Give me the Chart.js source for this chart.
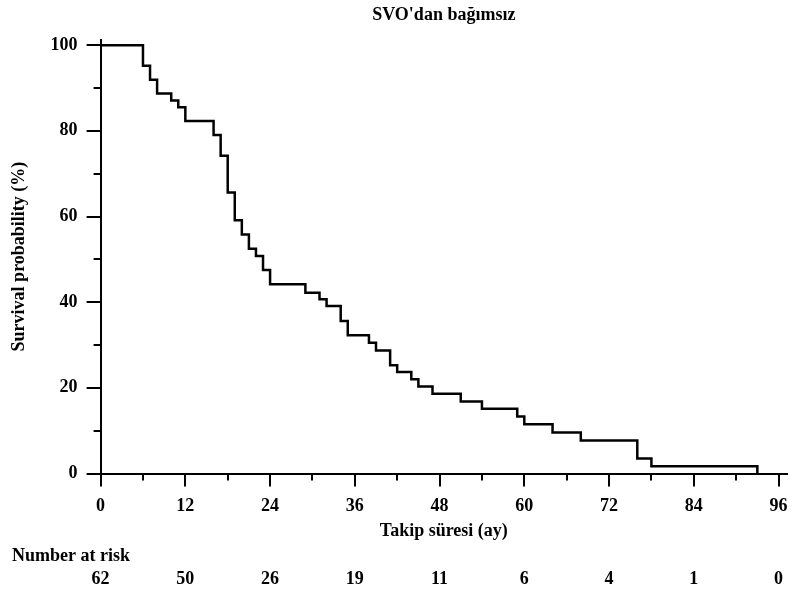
<!DOCTYPE html>
<html>
<head>
<meta charset="utf-8">
<script src="https://cdn.jsdelivr.net/npm/chart.js@4.4.0/dist/chart.umd.min.js"></script>
<style>
  html, body { margin: 0; padding: 0; background: #fff; }
  canvas { display: block; }
</style>
</head>
<body>
<canvas id="kmChart" width="793" height="592"></canvas>
<script>
// Kaplan-Meier estimate: follow-up months and survival (%) after each step
const months = [0, 6, 7, 8, 10, 11, 12, 16, 17, 18, 19, 20, 21, 22, 23, 24, 29, 31, 32, 34, 35, 38, 39, 41, 42, 44, 45, 47, 51, 54, 59, 60, 64, 68, 76, 78, 93];
const survival = [100, 95.2, 91.9, 88.7, 87.1, 85.5, 82.3, 79.0, 74.2, 65.6, 59.1, 55.8, 52.5, 50.8, 47.5, 44.2, 42.2, 40.7, 39.1, 35.6, 32.3, 30.5, 28.7, 25.3, 23.7, 22.0, 20.3, 18.6, 16.8, 15.1, 13.3, 11.5, 9.6, 7.7, 3.5, 1.7, 0];

const xTicks = [0, 12, 24, 36, 48, 60, 72, 84, 96];
const xMinorTicks = [6, 18, 30, 42, 54, 66, 78, 90];
const yTicks = [0, 20, 40, 60, 80, 100];
const yMinorTicks = [10, 30, 50, 70, 90];

// number at risk table under the x axis
const riskTimes = [0, 12, 24, 36, 48, 60, 72, 84, 96];
const atRisk = [62, 50, 26, 19, 11, 6, 4, 1, 0];

const FONT = "'Liberation Serif', 'Times New Roman', serif";
Chart.defaults.font.family = FONT;
Chart.defaults.font.size = 18;
Chart.defaults.font.weight = 'bold';
Chart.defaults.color = '#000';

// minor ticks + number at risk rows
const extras = {
    id: 'extras',
    afterDraw(chart) {
        const { ctx, scales: { x, y } } = chart;
        ctx.save();
        ctx.strokeStyle = '#000';
        ctx.lineWidth = 2;
        ctx.beginPath();
        xMinorTicks.forEach(v => {
            const px = Math.round(x.getPixelForValue(v));
            ctx.moveTo(px, y.bottom);
            ctx.lineTo(px, y.bottom + 7);
        });
        yMinorTicks.forEach(v => {
            const py = Math.round(y.getPixelForValue(v));
            ctx.moveTo(x.left - 7, py);
            ctx.lineTo(x.left, py);
        });
        ctx.stroke();

        ctx.font = 'bold 18px ' + FONT;
        ctx.fillStyle = '#000';
        ctx.textBaseline = 'middle';
        ctx.textAlign = 'left';
        ctx.fillText('Number at risk', 12, 556);
        ctx.textAlign = 'center';
        riskTimes.forEach((t, i) => {
            ctx.fillText(String(atRisk[i]), x.getPixelForValue(t), 579);
        });
        ctx.restore();
    }
};

const ctx = document.getElementById('kmChart').getContext('2d');

new Chart(ctx, {
    type: 'line',
    data: {
        datasets: [{
            data: months.map((m, i) => ({ x: m, y: survival[i] })),
            borderColor: '#000',
            borderWidth: 2.5,
            pointRadius: 0,
            stepped: 'before',
            fill: false
        }]
    },
    options: {
        responsive: false,
        animation: false,
        layout: { padding: { left: 0, right: 6, top: 0, bottom: 55 } },
        plugins: {
            legend: { display: false },
            tooltip: { enabled: false },
            title: {
                display: true,
                text: "SVO'dan bağımsız",
                fullSize: false,
                padding: { top: 5, bottom: 13 }
            }
        },
        scales: {
            x: {
                type: 'linear',
                min: 0,
                max: 97.2,
                afterBuildTicks: s => { s.ticks = xTicks.map(v => ({ value: v })); },
                grid: { drawOnChartArea: false, color: '#000', lineWidth: 2, tickLength: 13 },
                border: { color: '#000', width: 2 },
                ticks: { padding: 5, maxRotation: 0, font: { lineHeight: 1.6 } },
                title: {
                    display: true,
                    text: 'Takip süresi (ay)',
                    font: { lineHeight: 0.65 },
                    padding: { top: 0, bottom: 0 }
                }
            },
            y: {
                min: 0,
                max: 101.3,
                afterBuildTicks: s => { s.ticks = yTicks.map(v => ({ value: v })); },
                grid: { drawOnChartArea: false, color: '#000', lineWidth: 2, tickLength: 14 },
                border: { color: '#000', width: 2 },
                ticks: { padding: 9 },
                title: { display: true, text: 'Survival probability (%)', padding: { top: 9, bottom: 11 } }
            }
        }
    },
    plugins: [extras]
});
</script>
</body>
</html>
